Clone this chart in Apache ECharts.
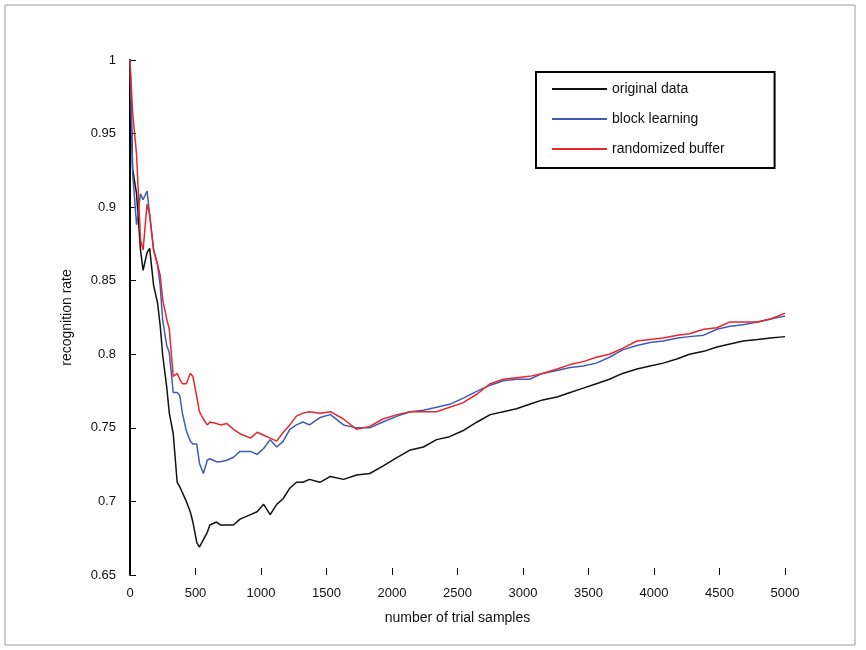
<!DOCTYPE html>
<html><head><meta charset="utf-8">
<script src="https://cdn.jsdelivr.net/npm/echarts@6/dist/echarts.min.js"></script>
<style>html,body{margin:0;padding:0;background:#fff}#c{width:866px;height:650px}</style>
</head><body><div id="c"></div>
<script>
const samples = [0,20,50,80,100,130,150,180,210,230,250,280,300,330,360,380,400,430,460,480,510,530,560,590,610,660,690,740,790,840,920,970,1020,1070,1120,1170,1220,1270,1320,1370,1450,1530,1630,1730,1830,1930,2040,2140,2240,2340,2440,2540,2650,2750,2850,2950,3050,3150,3260,3360,3460,3560,3660,3760,3870,3970,4070,4180,4270,4380,4480,4580,4680,4790,4890,5000];
const originalData = [1.000,0.926,0.909,0.871,0.857,0.869,0.872,0.847,0.835,0.820,0.799,0.778,0.760,0.746,0.713,0.710,0.706,0.700,0.693,0.686,0.672,0.669,0.674,0.679,0.684,0.686,0.684,0.684,0.684,0.688,0.691,0.693,0.698,0.691,0.698,0.702,0.709,0.713,0.713,0.715,0.713,0.717,0.715,0.718,0.719,0.724,0.730,0.735,0.737,0.742,0.744,0.748,0.754,0.759,0.761,0.763,0.766,0.769,0.771,0.774,0.777,0.780,0.783,0.787,0.790,0.792,0.794,0.797,0.800,0.802,0.805,0.807,0.809,0.810,0.811,0.812];
const blockLearning = [1.000,0.923,0.888,0.909,0.905,0.911,0.895,0.871,0.861,0.847,0.823,0.806,0.801,0.774,0.774,0.772,0.760,0.748,0.741,0.739,0.739,0.726,0.719,0.728,0.729,0.727,0.727,0.728,0.730,0.734,0.734,0.732,0.736,0.742,0.737,0.741,0.749,0.752,0.754,0.752,0.757,0.759,0.752,0.750,0.750,0.754,0.758,0.761,0.762,0.764,0.766,0.770,0.775,0.779,0.782,0.783,0.783,0.787,0.789,0.791,0.792,0.794,0.798,0.803,0.806,0.808,0.809,0.811,0.812,0.813,0.817,0.819,0.820,0.822,0.824,0.826];
const randomizedBuffer = [1.000,0.964,0.936,0.878,0.871,0.902,0.895,0.871,0.861,0.854,0.837,0.824,0.817,0.785,0.787,0.783,0.780,0.780,0.787,0.785,0.771,0.761,0.756,0.752,0.754,0.753,0.752,0.753,0.749,0.746,0.743,0.747,0.745,0.743,0.741,0.747,0.752,0.758,0.760,0.761,0.760,0.761,0.756,0.749,0.751,0.756,0.759,0.761,0.761,0.761,0.764,0.767,0.773,0.780,0.783,0.784,0.785,0.787,0.790,0.793,0.795,0.798,0.800,0.804,0.809,0.810,0.811,0.813,0.814,0.817,0.818,0.822,0.822,0.822,0.824,0.828];
const seriesNames = ['original data','block learning','randomized buffer'];
const seriesColors = ['#111111','#3d5cb8','#e8262b'];

const pair = arr => samples.map((x,i)=>[x,arr[i]]);
const all = [originalData, blockLearning, randomizedBuffer];
const chart = echarts.init(document.getElementById('c'));
chart.setOption({
  animation:false,
  backgroundColor:'#fff',
  textStyle:{fontFamily:'Liberation Sans, Arial, sans-serif'},
  graphic:[{type:'rect',shape:{x:5,y:5,width:850,height:640},style:{fill:'none',stroke:'#9a9a9a',lineWidth:1},z:-1}],
  grid:{left:130,right:81,top:60,bottom:75},
  legend:{
    orient:'vertical',left:536,top:72,
    data:seriesNames,
    itemWidth:55,itemHeight:10,itemGap:16,
    padding:[10,50,12,16],
    borderColor:'#000',borderWidth:2,backgroundColor:'#fff',
    icon:'path://M0,4L55,4L55,6L0,6Z',
    textStyle:{fontSize:14,color:'#111'}
  },
  xAxis:{
    type:'value',min:0,max:5000,interval:500,
    name:'number of trial samples',nameLocation:'middle',nameGap:36,
    nameTextStyle:{fontSize:14,color:'#111'},
    axisLine:{show:false},
    axisTick:{show:true,inside:true,length:7,lineStyle:{color:'#000'}},
    axisLabel:{fontSize:13,color:'#111',margin:12,formatter:v=>String(v)},
    splitLine:{show:false}
  },
  yAxis:{
    type:'value',min:0.65,max:1,interval:0.05,
    name:'recognition rate',nameLocation:'middle',nameGap:56,
    nameTextStyle:{fontSize:14,color:'#111'},
    axisLine:{show:true,lineStyle:{color:'#000',width:2}},
    axisTick:{show:true,inside:true,length:6,lineStyle:{color:'#000'}},
    axisLabel:{fontSize:13,color:'#111',margin:14,formatter:v=>String(+v.toFixed(2))},
    splitLine:{show:false}
  },
  series: all.map((arr,i)=>({
    name:seriesNames[i],type:'line',data:pair(arr),
    showSymbol:false,symbol:'none',
    lineStyle:{color:seriesColors[i],width:1.5},
    itemStyle:{color:seriesColors[i]},
    z:2+i
  }))
});
</script></body></html>
